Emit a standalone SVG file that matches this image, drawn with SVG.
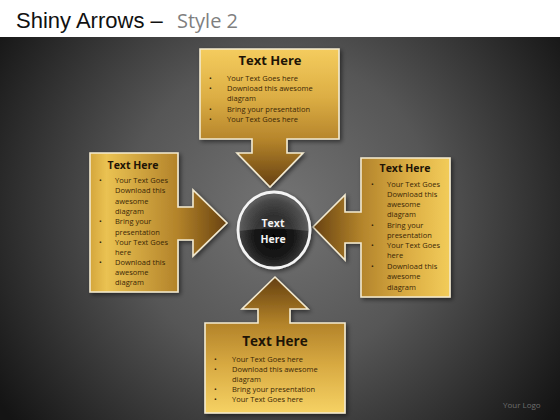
<svg xmlns="http://www.w3.org/2000/svg" width="560" height="420" viewBox="0 0 560 420">
<defs>
<radialGradient id="bg" cx="280" cy="210" r="340" gradientUnits="userSpaceOnUse">
<stop offset="0" stop-color="#747474"/>
<stop offset="0.45" stop-color="#565656"/>
<stop offset="1" stop-color="#141414"/>
</radialGradient>
<linearGradient id="gTop" x1="0" y1="49" x2="0" y2="187" gradientUnits="userSpaceOnUse">
<stop offset="0" stop-color="#f4cc5e"/>
<stop offset="0.35" stop-color="#dcae44"/>
<stop offset="0.65" stop-color="#b7862c"/>
<stop offset="1" stop-color="#654010"/>
</linearGradient>
<linearGradient id="gBot" x1="0" y1="413" x2="0" y2="277" gradientUnits="userSpaceOnUse">
<stop offset="0" stop-color="#f6d264"/>
<stop offset="0.35" stop-color="#d8aa42"/>
<stop offset="0.65" stop-color="#b4842a"/>
<stop offset="1" stop-color="#654010"/>
</linearGradient>
<linearGradient id="gLeft" x1="90" y1="0" x2="227" y2="0" gradientUnits="userSpaceOnUse">
<stop offset="0" stop-color="#d4a63c"/>
<stop offset="0.12" stop-color="#eac252"/>
<stop offset="0.64" stop-color="#b3832a"/>
<stop offset="1" stop-color="#684210"/>
</linearGradient>
<linearGradient id="gRight" x1="450" y1="0" x2="313" y2="0" gradientUnits="userSpaceOnUse">
<stop offset="0" stop-color="#f2cc5a"/>
<stop offset="0.3" stop-color="#dcae44"/>
<stop offset="0.64" stop-color="#b4852c"/>
<stop offset="1" stop-color="#684210"/>
</linearGradient>
<radialGradient id="gBall" cx="0.5" cy="0.58" r="0.55">
<stop offset="0" stop-color="#050505"/>
<stop offset="0.5" stop-color="#181818"/>
<stop offset="0.85" stop-color="#3c3c3c"/>
<stop offset="1" stop-color="#5c5c5c"/>
</radialGradient>
<linearGradient id="gShine" x1="0" y1="0" x2="0" y2="1">
<stop offset="0" stop-color="#ffffff" stop-opacity="0.04"/>
<stop offset="1" stop-color="#ffffff" stop-opacity="0.16"/>
</linearGradient>
<filter id="sh" x="-10%" y="-10%" width="125%" height="125%">
<feDropShadow dx="2" dy="2" stdDeviation="2" flood-color="#000" flood-opacity="0.5"/>
</filter>
</defs>
<style>
.title{font-family:"Liberation Sans",Arial,sans-serif;font-size:22px;fill:#111}
.sub{font-family:"Open Sans","Liberation Sans",sans-serif;font-size:20px;fill:#7f7f7f}
.shape{stroke:#f3ead0;stroke-width:1.6;stroke-linejoin:miter;filter:url(#sh)}
.hd{font-family:"Open Sans","Liberation Sans",sans-serif;font-weight:bold;fill:#1e1406;text-anchor:middle}
.bt{font-family:"Open Sans","Liberation Sans",sans-serif;font-size:7.5px;fill:#3a2706}
.ct{font-family:"Open Sans","Liberation Sans",sans-serif;font-weight:bold;font-size:10.5px;fill:#f2f2f2;text-anchor:middle}
.logo{font-family:"Open Sans","Liberation Sans",sans-serif;font-size:8px;fill:#6e6e6e}
</style>
<rect x="0" y="0" width="560" height="420" fill="#ffffff"/>
<rect x="0" y="37" width="560" height="383" fill="url(#bg)"/>
<text x="16" y="28" class="title">Shiny Arrows –</text>
<text x="177" y="28" class="sub">Style 2</text>

<g id="connectors"></g>

<g id="node-top">
<path class="shape" fill="url(#gTop)" d="M200,49 H339 V139 H287 V153 H303 L270,187 L237,153 H252 V139 H200 Z"/>
<text x="270" y="65" class="hd" font-size="13">Text Here</text>
<g class="bt">
<text x="209" y="81">•</text><text x="227" y="81">Your Text Goes here</text>
<text x="209" y="91">•</text><text x="227" y="91">Download this awesome</text>
<text x="227" y="101">diagram</text>
<text x="209" y="112">•</text><text x="227" y="112">Bring your presentation</text>
<text x="209" y="122">•</text><text x="227" y="122">Your Text Goes here</text>
</g>
</g>

<g id="node-left">
<path class="shape" fill="url(#gLeft)" d="M90,153 H178 V207 H193 V190 L227,223 L193,256 V240 H178 V292 H90 Z"/>
<text x="133" y="169" class="hd" font-size="10.5">Text Here</text>
<g class="bt">
<text x="99" y="183">•</text><text x="115" y="183">Your Text Goes</text>
<text x="115" y="193">Download this</text>
<text x="115" y="204">awesome</text>
<text x="115" y="214">diagram</text>
<text x="99" y="224">•</text><text x="115" y="224">Bring your</text>
<text x="115" y="235">presentation</text>
<text x="99" y="245">•</text><text x="115" y="245">Your Text Goes</text>
<text x="115" y="255">here</text>
<text x="99" y="265">•</text><text x="115" y="265">Download this</text>
<text x="115" y="275">awesome</text>
<text x="115" y="285">diagram</text>
</g>
</g>

<g id="node-right">
<path class="shape" fill="url(#gRight)" d="M361,158 H450 V297 H361 V243 H345 V260 L313,227 L345,195 V212 H361 Z"/>
<text x="405" y="172" class="hd" font-size="10.5">Text Here</text>
<g class="bt">
<text x="371" y="187">•</text><text x="387" y="187">Your Text Goes</text>
<text x="387" y="197">Download this</text>
<text x="387" y="207">awesome</text>
<text x="387" y="217">diagram</text>
<text x="371" y="228">•</text><text x="387" y="228">Bring your</text>
<text x="387" y="238">presentation</text>
<text x="371" y="248">•</text><text x="387" y="248">Your Text Goes</text>
<text x="387" y="258">here</text>
<text x="371" y="269">•</text><text x="387" y="269">Download this</text>
<text x="387" y="279">awesome</text>
<text x="387" y="290">diagram</text>
</g>
</g>

<g id="node-bottom">
<path class="shape" fill="url(#gBot)" d="M205,323 H258 V309 H242 L275,277 L308,309 H290 V323 H345 V413 H205 Z"/>
<text x="275" y="346" class="hd" font-size="13.5">Text Here</text>
<g class="bt">
<text x="214" y="362">•</text><text x="232" y="362">Your Text Goes here</text>
<text x="214" y="372">•</text><text x="232" y="372">Download this awesome</text>
<text x="232" y="382">diagram</text>
<text x="214" y="392">•</text><text x="232" y="392">Bring your presentation</text>
<text x="214" y="402">•</text><text x="232" y="402">Your Text Goes here</text>
</g>
</g>

<g id="node-center">
<ellipse cx="274" cy="230" rx="36" ry="38" fill="url(#gBall)" stroke="#f4f4f4" stroke-width="2.8" filter="url(#sh)"/>
<path d="M239,231 A35,36 0 0 1 309,231 Q274,226 239,231 Z" fill="url(#gShine)"/>
<text x="273" y="227" class="ct">Text</text>
<text x="273" y="243" class="ct">Here</text>
</g>

<text x="503" y="408" class="logo">Your Logo</text>
</svg>
